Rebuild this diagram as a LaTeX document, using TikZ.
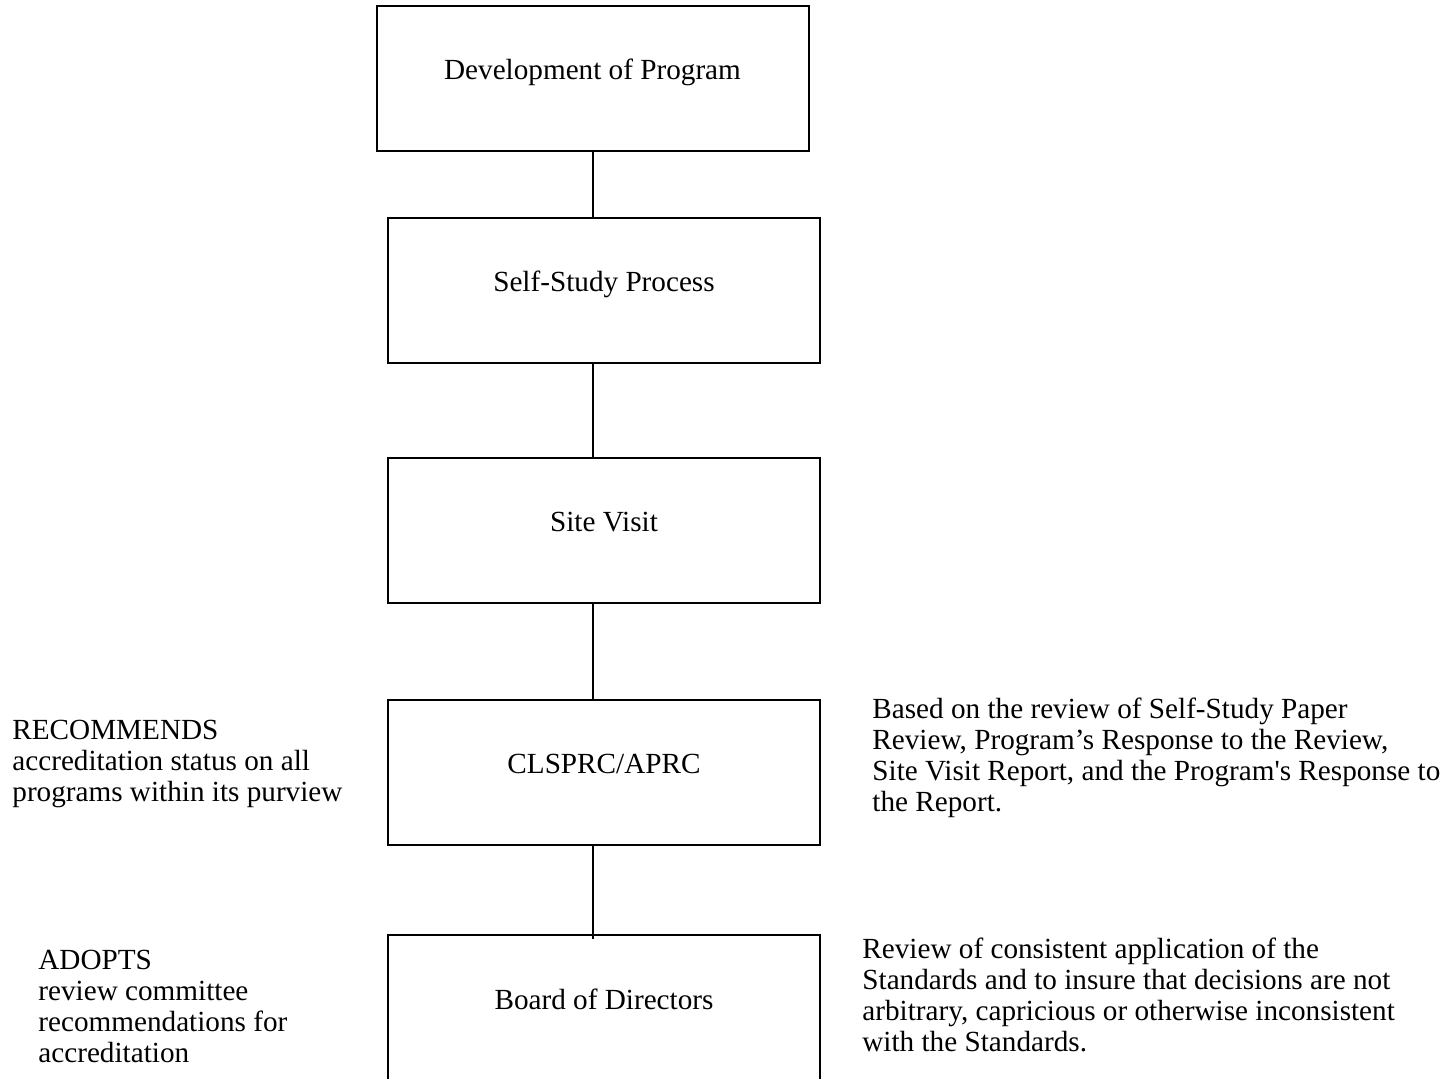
\documentclass[tikz,border=0pt]{standalone}
\usepackage{fontspec}
\setmainfont{Liberation Serif}
\begin{document}
\begin{tikzpicture}[x=0.5pt,y=-0.5pt,
        font=\fontsize{14.6pt}{15.5pt}\selectfont,
        bsty/.style={draw,line width=1pt,minimum width=216pt,minimum height=72.5pt,inner sep=0pt,text height=10pt,text depth=8.8pt},
        tsty/.style={anchor=north west,align=left,inner sep=0pt},
        lsty/.style={line width=1pt},
        ]

    \useasboundingbox (0,0) rectangle (1452,1078);

    \node (dev) at (592.5,78.5) [bsty] {Development of Program};
    \node (ssp) at (604,290) [bsty] {Self-Study Process};
    \node (vis) at (604,530) [bsty] {Site Visit};
    \node (rc) at (604,772) [bsty] {CLSPRC/APRC};
    \node (bod) at (604,1008.5) [bsty,minimum height=73.5pt] {Board of Directors};

    \node (rec) at (12,719.4) [tsty] {RECOMMENDS\\accreditation status on all\\programs within its purview};
    \node (ado) at (38,949.4) [tsty] {ADOPTS\\review committee\\recommendations for\\accreditation};
    \node (basis) at (872,697.8) [tsty] {Based on the review of Self-Study Paper\\Review, Program’s Response to the Review,\\Site Visit Report, and the Program\textquotesingle s Response to\\the Report.};
    \node (scope) at (862,937.7) [tsty] {Review of consistent application of the\\Standards and to insure that decisions are not\\arbitrary, capricious or otherwise inconsistent\\with the Standards.};

    \draw[lsty] (dev.south) -- (dev.south |- ssp.north);
    \draw[lsty] (ssp.south -| dev.south) -- (vis.north -| dev.south);
    \draw[lsty] (vis.south -| dev.south) -- (rc.north -| dev.south);
    \draw[lsty] (rc.south -| dev.south) -- ([yshift=-2.5pt]bod.north -| dev.south);

\end{tikzpicture}
\end{document}
